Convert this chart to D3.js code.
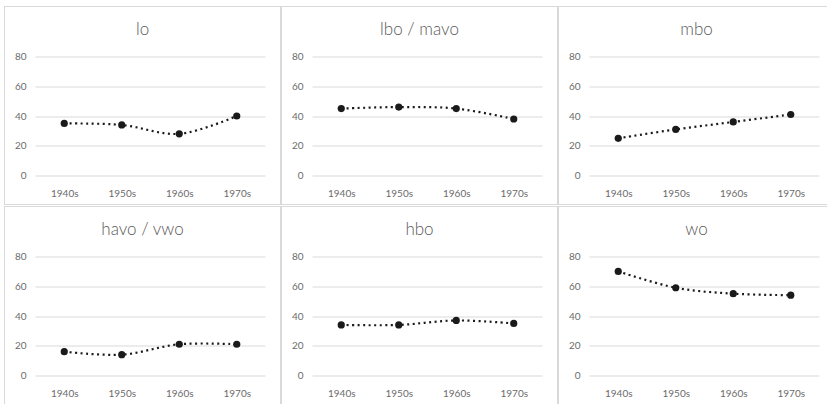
<!DOCTYPE html>
<html><head><meta charset="utf-8">
<script src="https://cdn.jsdelivr.net/npm/d3@7"></script>
<style>
html,body{margin:0;padding:0;background:#fff;}
svg{display:block;font-family:Lato,"Open Sans",sans-serif;}
</style></head>
<body>
<svg id="chart" width="827" height="404"></svg>
<script>
const categories = ["1940s","1950s","1960s","1970s"];
const titles = ["lo","lbo / mavo","mbo","havo / vwo","hbo","wo"];
const seriesLo = [35,34,28,40];
const seriesLboMavo = [45,46,45,38];
const seriesMbo = [25,31,36,41];
const seriesHavoVwo = [16,14,21,21];
const seriesHbo = [34,34,37,35];
const seriesWo = [70,59,55,54];
const yTicks = [0,20,40,60,80];
const allSeries = [seriesLo,seriesLboMavo,seriesMbo,seriesHavoVwo,seriesHbo,seriesWo];

const svg = d3.select("#chart");
const panelW = 277, panelH = 200;
const plotL = 31, plotW = 230, plotTop = 50, plotBottom = 169;

allSeries.forEach((vals,i)=>{
  const col = i%3, row = Math.floor(i/3);
  const ox = 4.5 + panelW*col, oy = 6.5 + panelH*row;
  const g = svg.append("g").attr("transform",`translate(${ox},${oy})`);
  g.append("rect").attr("x",0).attr("y",0).attr("width",panelW-1).attr("height",panelH-2)
    .attr("fill","#fff").attr("stroke","#d9d9d9").attr("stroke-width",1);
  const x = d3.scalePoint().domain(categories).range([plotL, plotL+plotW]).padding(0.5);
  const y = d3.scaleLinear().domain([0,80]).range([plotBottom, plotTop]);
  g.append("g").selectAll("line").data(yTicks).join("line")
    .attr("x1",plotL).attr("x2",plotL+plotW)
    .attr("y1",d=>Math.round(y(d))+0.5).attr("y2",d=>Math.round(y(d))+0.5)
    .attr("stroke","#d9d9d9").attr("stroke-width",1);
  const ya = g.append("g").attr("transform",`translate(${plotL},0)`)
    .call(d3.axisLeft(y).tickValues(yTicks).tickSize(0).tickPadding(9));
  ya.select(".domain").remove();
  ya.selectAll("text").attr("fill","#6b6b6b").style("font-size","10px").style("font-family","Lato,'Open Sans',sans-serif");
  const xa = g.append("g").attr("transform",`translate(0,${plotBottom})`)
    .call(d3.axisBottom(x).tickSize(0).tickPadding(14));
  xa.select(".domain").remove();
  xa.selectAll("text").attr("fill","#6b6b6b").style("font-size","10px").style("font-family","Lato,'Open Sans',sans-serif");
  g.append("text").attr("x",(panelW-1)/2).attr("y",28.5).attr("text-anchor","middle")
    .attr("fill","#595959").style("font-size","17px").style("font-weight","300").text(titles[i]);
  const line = d3.line().x((d,k)=>x(categories[k])).y(d=>y(d)).curve(d3.curveCatmullRom.alpha(0.5));
  g.append("path").datum(vals).attr("d",line).attr("fill","none")
    .attr("stroke","#1a1a1a").attr("stroke-width",2.2).attr("stroke-dasharray","2,3.5");
  g.append("g").selectAll("circle").data(vals).join("circle")
    .attr("cx",(d,k)=>x(categories[k])).attr("cy",d=>y(d)).attr("r",3.6).attr("fill","#1a1a1a");
});
</script>
</body></html>
